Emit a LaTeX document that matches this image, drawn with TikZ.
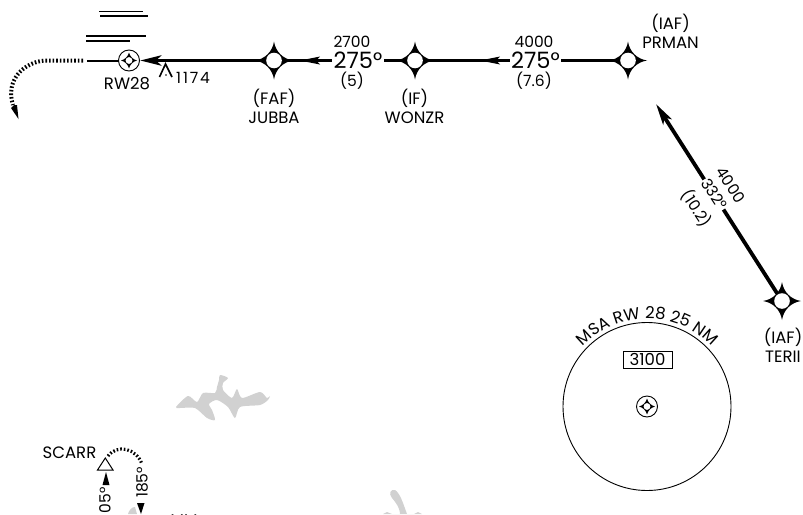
\documentclass[tikz,border=0pt]{standalone}
\usepackage{fontspec}
\setmainfont{Poppins}
\usepackage{tikz}
\usetikzlibrary{arrows,arrows.meta,decorations.text}

\definecolor{lakegray}{gray}{0.82}

\tikzset{
  fixstar/.pic={
    \fill (-19,0) .. controls (-9,-1.5) and (-1.5,-9) .. (0,-19)
      .. controls (1.5,-9) and (9,-1.5) .. (19,0)
      .. controls (9,1.5) and (1.5,9) .. (0,19)
      .. controls (-1.5,9) and (-9,1.5) .. (-19,0) -- cycle;
    \fill[white] (0,0) circle (7.8);
  },
  navaid/.pic={
    \draw[line width=0.9pt,fill=white] (0,0) circle (10.5);
    \fill (-8,0) .. controls (-4,-1) and (-1,-4) .. (0,-8)
      .. controls (1,-4) and (4,-1) .. (8,0)
      .. controls (4,1) and (1,4) .. (0,8)
      .. controls (-1,4) and (-4,1) .. (-8,0) -- cycle;
    \fill[white] (0,0) circle (3.4);
  },
  midhead/.pic={
    \fill (0,0) -- (20,-4) -- (16,0) -- (20,4) -- cycle;
  },
  course/.style={line width=3.8pt},
  inbound/.style={course,-{Stealth[length=21pt,width=10pt,inset=5pt]}},
  missed/.style={line width=4pt,dash pattern=on 1.6pt off 2pt},
  rwybar/.style={line width=1.8pt},
  lbl/.style={font=\fontsize{16.5}{18.5}\selectfont,inner sep=0pt,align=center},
  num/.style={font=\fontsize{15.5}{16}\selectfont,inner sep=0pt},
  hdg/.style={font=\fontsize{22.5}{23}\selectfont,inner sep=1.5pt,fill=white},
  lake/.style={fill=lakegray,draw=none}
}

\begin{document}
\begin{tikzpicture}[x=1pt,y=-1pt]
  \useasboundingbox (0,0) rectangle (803,514);

  % lakes
  \fill[lake] plot[smooth cycle,tension=0.45] coordinates {(176,407) (188,396) (197,402) (203,393)
    (215,393) (217,387) (219,380) (220,375) (228,378) (223,383) (223,390) (232,398) (237,389)
    (242,398) (260,392) (267,398) (270,396) (268,400) (260,405) (240,407) (235,418) (228,407)
    (217,400) (209,404) (212,410) (215,420) (207,418) (195,408) (180,408)};
  \fill[lake] (383,514) -- (387,512) -- (392,514) -- (400,514) .. controls (400,510) and (398,505) .. (392,498)
    .. controls (388,493) and (391,489) .. (395,490) .. controls (400,493) and (403,503) .. (407,514)
    -- (414,514) -- (418,512) -- (422,514) -- cycle;
  \fill[lake] (128,514) .. controls (129,510) and (132,507) .. (135,507) -- (137,514) -- cycle;

  % fixes
  \coordinate (RW) at (129,60.5);
  \coordinate (JUBBA) at (274,60.5);
  \coordinate (WONZR) at (415,60.5);
  \coordinate (PRMAN) at (628,60.5);
  \coordinate (TERII) at (782,301);
  \coordinate (MSA) at (647,406.5);
  \coordinate (rwend) at (87,60.5);
  \coordinate (legtip) at (656,104);

  % courses
  \draw[line width=2pt] (rwend) -- (RW);
  \draw[inbound,shorten >=11pt] (JUBBA) -- (RW);
  \draw[course] (WONZR) -- (JUBBA);
  \draw[course] (PRMAN) -- (WONZR);
  \draw[inbound] (TERII) -- (legtip);
  \pic at (300,60.5) {midhead};
  \pic at (480,60.5) {midhead};

  \pic at (RW) {navaid};
  \pic at (MSA) {navaid};
  \pic at (JUBBA) {fixstar};
  \pic at (WONZR) {fixstar};
  \pic at (PRMAN) {fixstar};
  \pic at (TERII) {fixstar};

  % runway bars
  \draw[rwybar] (99,11.5) -- (143,11.5);
  \draw[rwybar] (100,16) -- (148,16);
  \draw[rwybar] (86,36) -- (146,36);
  \draw[rwybar] (86,41) -- (130,41);

  % missed approach
  \draw[missed] (83,60.5) -- (45,60.5) .. controls (24,62) and (5,80) .. (13,105);
  \fill (11,108) -- (14,105) -- (17,105) -- (18.5,119) -- cycle;

  % obstacle
  \draw[line width=1.6pt] (159.5,77) -- (165.5,64) -- (172,77);
  \fill (166,75) circle (0.8);
  \node[num,anchor=west,font=\fontsize{15.5}{16}\selectfont\addfontfeature{LetterSpace=12}] (obst) at (176,78) {1174};

  \node[lbl] (rwname) at (127,84) {RW28};
  \node[lbl,anchor=north] (fafname) at (274,89) {(FAF)\\JUBBA};
  \node[lbl,anchor=north] (ifname) at (414.5,89) {(IF)\\WONZR};
  \node[lbl,anchor=north] (prname) at (670.5,14) {(IAF)\\PRMAN};
  \node[lbl,anchor=north] (tername) at (783,328) {(IAF)\\TERII};

  % leg data
  \node[hdg] (hdgone) at (358,60.5) {275°};
  \node[hdg] (hdgtwo) at (535.5,60.5) {275°};
  \node[num] (altone) at (352,42) {2700};
  \node[num] (alttwo) at (534,42) {4000};
  \node[num] (distone) at (352,81) {(5)};
  \node[num] (disttwo) at (534,81) {(7.6)};

  \node[num,fill=white,rotate=-57,inner sep=1pt] (hdgthree) at (714.5,194) {332°};
  \node[num,rotate=-57] (altthree) at (731,185) {4000};
  \node[num,rotate=-57] (distthree) at (696.5,208.5) {(10.2)};

  % MSA circle
  \node[draw,line width=0.9pt,inner sep=0pt,minimum width=49pt,minimum height=17pt,font=\fontsize{16.5}{17}\selectfont] (altbox) at (647.5,359.5) {3100};
  \draw[line width=0.9pt] (MSA) circle (84);
  \path[decorate,decoration={text along path,text align=center,
      text={|\fontsize{16.5}{17}\selectfont|MSA RW 28 25 NM}}]
    (571,362.5) arc[start angle=210,end angle=330,radius=88];

  % SCARR
  \node[lbl] (scarr) at (69.5,453) {SCARR};
  \draw[line width=1pt] (97.5,470) -- (113,470) -- (105.3,458) -- cycle;
  \draw[line width=3.2pt,dash pattern=on 1.6pt off 2pt] (108,456) .. controls (117,444) and (136,448) .. (142,464);
  \fill (106,472) -- (109.5,485) -- (102.5,485) -- cycle;
  \fill (137,503) -- (144.5,503) -- (141,514) -- cycle;
  \node[num,rotate=90,anchor=west] (hdgdown) at (142,498) {185°};
  \node[num,rotate=90,anchor=east] (hdgup) at (105,487) {05°};
  \node[num] (mmtxt) at (184,520) {MM};
\end{tikzpicture}
\end{document}
